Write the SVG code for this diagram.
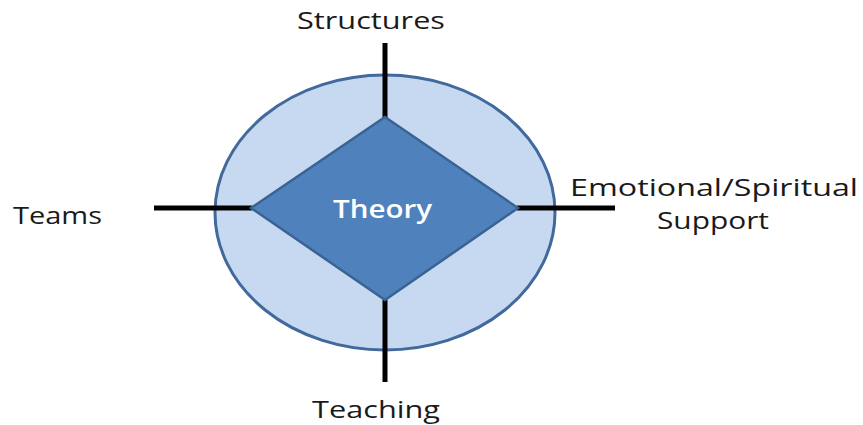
<svg xmlns="http://www.w3.org/2000/svg" width="863" height="425" viewBox="0 0 863 425">
  <style>
    .label { font-family: "Open Sans", "Noto Sans", "DejaVu Sans", sans-serif; font-size: 24px; fill: #1a1a1a; }
    .center { font-family: "Open Sans", "Noto Sans", "DejaVu Sans", sans-serif; font-size: 26px; font-weight: 600; fill: #ffffff; }
    .axis { stroke: #000000; stroke-width: 5; stroke-linecap: butt; fill: none; }
  </style>
  <rect width="863" height="425" fill="#ffffff"/>

  <!-- outer field -->
  <g id="field">
    <ellipse cx="385" cy="212.5" rx="170" ry="137.5" fill="#C6D9F1" stroke="#41699C" stroke-width="3"/>
  </g>

  <!-- axes linking the core to each label -->
  <g id="connectors">
    <line class="axis" x1="385" y1="43" x2="385" y2="118"/>
    <line class="axis" x1="385" y1="300" x2="385" y2="382"/>
    <line class="axis" x1="154" y1="208" x2="252" y2="208"/>
    <line class="axis" x1="517" y1="208" x2="615" y2="208"/>
  </g>

  <!-- core diamond -->
  <g id="theory">
    <polygon points="385,117 518,208 385,300 251,208" fill="#4F81BD" stroke="#3A6394" stroke-width="2.5" stroke-linejoin="miter"/>
    <text class="center" x="333" y="218" textLength="99" lengthAdjust="spacingAndGlyphs">Theory</text>
  </g>

  <g id="structures">
    <text class="label" x="297" y="29" textLength="148" lengthAdjust="spacingAndGlyphs">Structures</text>
  </g>

  <g id="teams">
    <text class="label" x="13" y="224" textLength="89" lengthAdjust="spacingAndGlyphs">Teams</text>
  </g>

  <g id="support">
    <text class="label" x="570" y="196" textLength="288" lengthAdjust="spacingAndGlyphs">Emotional/Spiritual</text>
    <text class="label" x="657" y="229" textLength="112" lengthAdjust="spacingAndGlyphs">Support</text>
  </g>

  <g id="teaching">
    <text class="label" x="312" y="418" textLength="128" lengthAdjust="spacingAndGlyphs">Teaching</text>
  </g>
</svg>
